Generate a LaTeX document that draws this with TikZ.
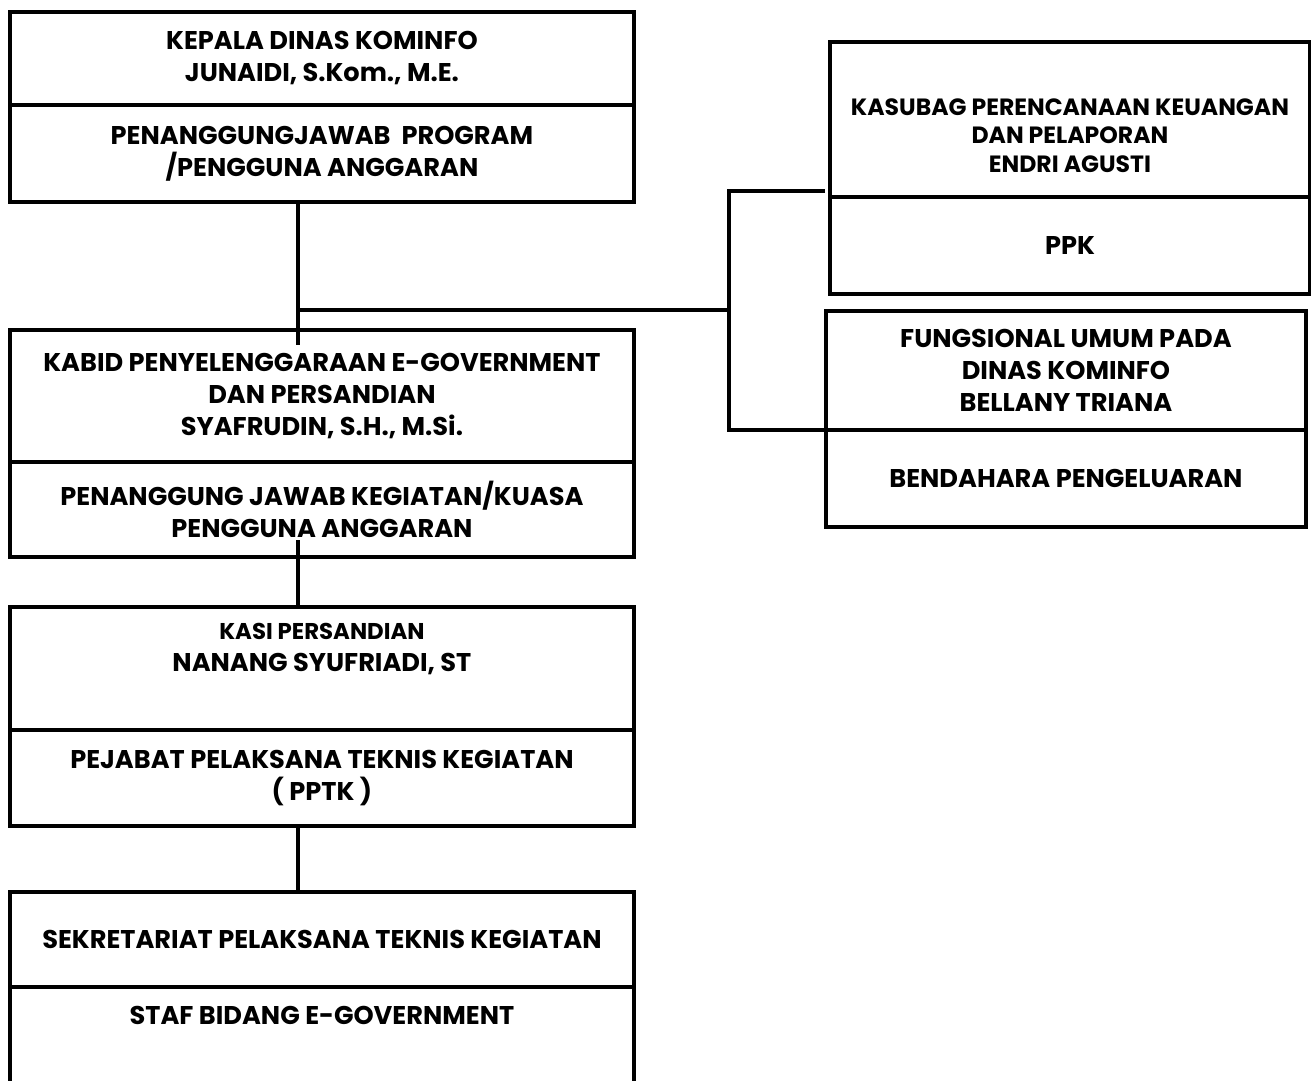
\documentclass[tikz,border=0pt]{standalone}
\usepackage{fontspec}
\setmainfont{Poppins}
\usetikzlibrary{positioning}

\begin{document}
\begin{tikzpicture}[x=0.02cm,y=-0.02cm,
          cell/.style = {draw,line width=2.2pt,anchor=north west,align=center,inner sep=2pt,outer sep=0pt,
                         font=\fontsize{14.6}{18.2}\selectfont\bfseries},
          lft/.style = {cell,minimum width=12.48cm},
          rgt/.style = {cell,minimum width=9.6cm},
          link/.style = {line width=2pt}
          ]
 \useasboundingbox (0,0) rectangle (1311,1080);
          % left column
          \node[lft,minimum height=1.86cm] (kadis) at (10,12) {KEPALA DINAS KOMINFO\\JUNAIDI, S.Kom., M.E.};
          \node[lft,minimum height=1.94cm] (pa) at (10,105) {PENANGGUNGJAWAB\ \ PROGRAM\\/PENGGUNA ANGGARAN};
          \node[lft,minimum height=2.64cm] (kabid) at (10,330) {KABID PENYELENGGARAAN E-GOVERNMENT\\DAN PERSANDIAN\\SYAFRUDIN, S.H., M.Si.};
          \node[lft,minimum height=1.90cm] (kpa) at (10,462) {PENANGGUNG JAWAB KEGIATAN/KUASA\\PENGGUNA ANGGARAN};
          \node[lft,minimum height=2.46cm] (kasi) at (10,607) {{\fontsize{13}{18.2}\selectfont KASI PERSANDIAN}\\NANANG SYUFRIADI, ST\\\strut};
          \node[lft,minimum height=1.92cm] (pptk) at (10,730) {PEJABAT PELAKSANA TEKNIS KEGIATAN\\( PPTK )};
          \node[lft,minimum height=1.90cm] (sekr) at (10,892) {SEKRETARIAT PELAKSANA TEKNIS KEGIATAN};
          \node[lft,minimum height=1.96cm] (staf) at (10,987) {STAF BIDANG E-GOVERNMENT\\\strut};
          % right column
          \node[rgt,minimum height=3.10cm,font=\fontsize{13.4}{16.4}\selectfont\bfseries] (kasubag) at (830,42) {\strut\\KASUBAG PERENCANAAN KEUANGAN\\DAN PELAPORAN\\ENDRI AGUSTI};
          \node[rgt,minimum height=1.94cm] (ppk) at (830,197) {PPK};
          \node[rgt,minimum height=2.38cm] (fung) at (826,311) {FUNGSIONAL UMUM PADA\\DINAS KOMINFO\\BELLANY TRIANA};
          \node[rgt,minimum height=1.94cm] (bend) at (826,430) {BENDAHARA PENGELUARAN};
          % connectors
          \coordinate (j1) at (298,310);
          \coordinate (j2) at (729,310);
          \coordinate (k1) at (298,345);
          \coordinate (k2) at (298,540);
          \coordinate (j3) at (825,191);
          \draw[link] (pa.south -| j1) -- (k1);
          \draw[link] (j1) -- (j2);
          \draw[link] (k2) -- (kasi.north -| k2);
          \draw[link] (pptk.south -| k2) -- (sekr.north -| k2);
          \draw[link] (j3) -| (fung.south west -| j2) -- (fung.south west);
        \end{tikzpicture}
\end{document}
